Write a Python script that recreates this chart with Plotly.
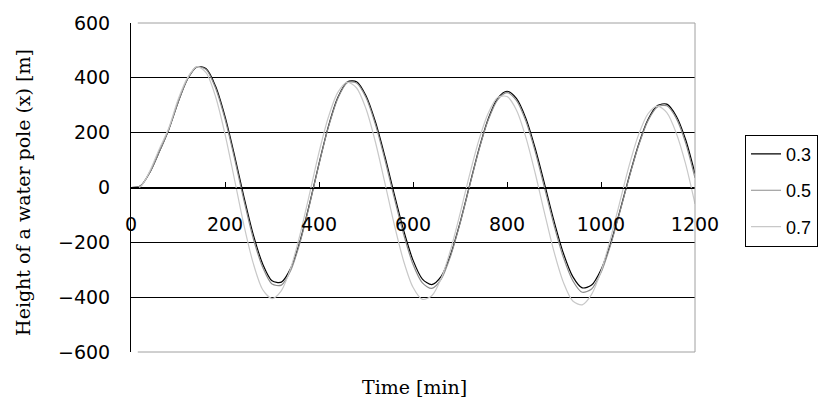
import plotly.graph_objects as go

time_min = [0, 20, 40, 60, 80, 100, 120, 140, 160, 180, 200, 220, 240, 260, 280, 300,
            320, 340, 360, 380, 400, 420, 440, 460, 480, 500, 520, 540, 560, 580, 600,
            620, 640, 660, 680, 700, 720, 740, 760, 780, 800, 820, 840, 860, 880, 900,
            920, 940, 960, 980, 1000, 1020, 1040, 1060, 1080, 1100, 1120, 1140, 1160,
            1180, 1200]

height_03 = [0, 5, 55, 130, 210, 310, 395, 440, 433, 369, 259, 119, -32, -171, -278, -340,
             -345, -294, -193, -59, 87, 223, 328, 385, 386, 335, 240, 115, -23, -156, -265,
             -334, -354, -324, -244, -129, 5, 138, 250, 325, 351, 325, 253, 143, 12, -122,
             -240, -325, -366, -356, -300, -206, -87, 40, 157, 248, 299, 304, 261,
             175, 50]

height_05 = [0, 5, 55, 130, 210, 310, 395, 440, 430, 362, 250, 108, -45, -185, -290, -352,
             -356, -302, -198, -62, 85, 220, 325, 382, 381, 328, 230, 103, -37, -170, -280,
             -348, -368, -334, -250, -132, 2, 135, 246, 320, 346, 318, 243, 131, -2, -137,
             -255, -340, -382, -370, -310, -212, -90, 37, 153, 244, 294, 298, 253,
             163, 35]

height_07 = [0, 3, 60, 140, 215, 320, 400, 441, 418, 331, 195, 31, -135, -276, -372, -405,
             -376, -293, -169, -22, 128, 257, 347, 384, 363, 287, 166, 18, -134, -268, -364,
             -408, -395, -332, -227, -96, 44, 172, 271, 328, 332, 283, 184, 52, -94, -234,
             -346, -414, -428, -390, -306, -188, -53, 81, 193, 269, 297, 273, 199,
             86, -60]

series_names = ["0.3", "0.5", "0.7"]
series_colors = ["#000000", "#8c8c8c", "#c8c8c8"]
series_values = [height_03, height_05, height_07]

y_ticks = [-600, -400, -200, 0, 200, 400, 600]
x_ticks = [0, 200, 400, 600, 800, 1000, 1200]

fig = go.Figure()
for i, (nm, col, vals) in enumerate(zip(series_names, series_colors, series_values)):
    fig.add_trace(go.Scatter(
        x=time_min, y=vals, name=nm, mode="lines",
        line=dict(color=col, width=1.2, shape="spline", smoothing=0.8),
        legendgroup="g%d" % i,
    ))

axis_font = dict(family="DejaVu Sans", size=19, color="#000000")
title_font = dict(family="DejaVu Serif", size=19, color="#000000")

fig.update_layout(
    width=831, height=399,
    margin=dict(l=131, r=136, t=19, b=47),
    paper_bgcolor="white", plot_bgcolor="white",
    showlegend=True,
    legend=dict(
        x=1.0887, y=0.6607, xanchor="left", yanchor="top",
        bordercolor="#000000", borderwidth=1, bgcolor="white",
        font=dict(family="Liberation Sans", size=18, color="#000000"),
        tracegroupgap=10, itemwidth=30,
    ),
    xaxis=dict(
        range=[0, 1200], tickvals=x_ticks, ticktext=[str(v) for v in x_ticks],
        anchor="free", position=0.5,
        showline=True, linecolor="#000000", linewidth=1,
        ticks="inside", ticklen=6, tickcolor="#000000",
        showgrid=False, zeroline=False,
        tickfont=axis_font, ticklabelstandoff=20,
    ),
    yaxis=dict(
        range=[-600, 600], tickvals=y_ticks,
        showline=True, linecolor="#000000", linewidth=1,
        ticks="inside", ticklen=8, tickcolor="#000000",
        showgrid=True, gridcolor="#000000", gridwidth=1,
        zeroline=False,
        tickfont=axis_font, ticklabelstandoff=16,
    ),
    shapes=[
        dict(type="line", xref="x domain", yref="y domain", x0=0.012, x1=1, y0=1, y1=1,
             line=dict(color="#a0a0a0", width=1), layer="above"),
        dict(type="line", xref="x domain", yref="y domain", x0=1, x1=1, y0=0, y1=1,
             line=dict(color="#a0a0a0", width=1), layer="above"),
        dict(type="line", xref="x domain", yref="y domain", x0=0.012, x1=1, y0=0, y1=0,
             line=dict(color="#a0a0a0", width=1), layer="above"),
    ],
    annotations=[
        dict(text="Height of a water pole (x) [m]", xref="paper", yref="paper",
             x=-0.1915, y=0.4865, xanchor="center", yanchor="middle", textangle=-90,
             showarrow=False, font=title_font),
        dict(text="Time [min]", xref="paper", yref="paper",
             x=0.5018, y=-0.105, xanchor="center", yanchor="middle",
             showarrow=False, font=title_font),
    ],
)

fig.write_html("out.html")
